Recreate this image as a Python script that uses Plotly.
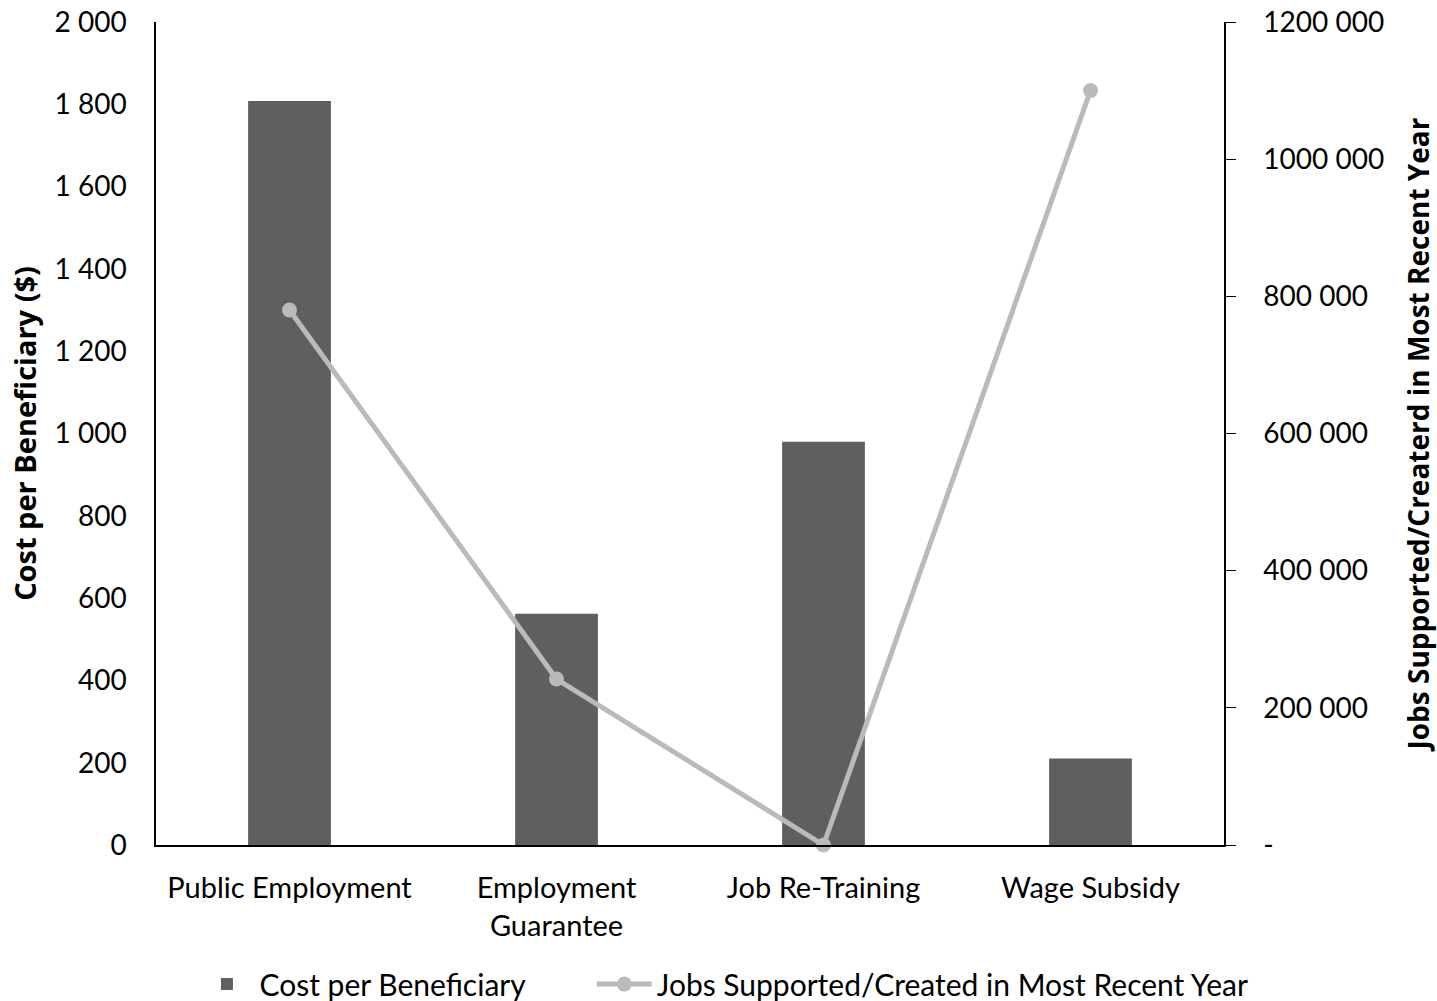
import plotly.graph_objects as go

categories = ["Public Employment", "Employment<br>Guarantee", "Job Re-Training", "Wage Subsidy"]
cost_per_beneficiary = [1808, 562, 980, 210]
jobs_supported = [780000, 242000, 0, 1100000]

left_tickvals = [0, 200, 400, 600, 800, 1000, 1200, 1400, 1600, 1800, 2000]
left_ticktext = ["0", "200", "400", "600", "800", "1 000", "1 200", "1 400", "1 600", "1 800", "2 000"]
right_tickvals = [0, 200000, 400000, 600000, 800000, 1000000, 1200000]
right_ticktext = ["-", "200 000", "400 000", "600 000", "800 000", "1000 000", "1200 000"]

FONT = "Lato, 'Open Sans', sans-serif"
TITLE_FONT = "'Open Sans', sans-serif"

fig = go.Figure()
fig.add_trace(go.Bar(
    x=categories, y=cost_per_beneficiary, name="Cost per Beneficiary",
    marker=dict(color="#5f5f5f", line=dict(width=0)), width=0.31,
    legend="legend",
))
fig.add_trace(go.Scatter(
    x=categories, y=jobs_supported, name="Jobs Supported/Created in Most Recent Year",
    yaxis="y2", mode="lines+markers",
    line=dict(color="#bababa", width=5),
    marker=dict(color="#bababa", size=15),
    cliponaxis=False, legend="legend2",
))

legend_common = dict(orientation="h", y=-0.169, yanchor="middle", xanchor="left",
                     font=dict(size=30), itemwidth=55, bgcolor="rgba(0,0,0,0)")

fig.update_layout(
    width=1437, height=1001,
    margin=dict(l=156, r=213, t=22, b=156, autoexpand=False),
    paper_bgcolor="white", plot_bgcolor="white",
    font=dict(family=FONT, size=28, color="black"),
    showlegend=True,
    legend=dict(x=0.036, **legend_common),
    legend2=dict(x=0.408, **legend_common),
    xaxis=dict(showline=True, linecolor="black", linewidth=2, ticks="",
               showgrid=False, tickfont=dict(size=29), ticklabelstandoff=16,
               automargin=False),
    yaxis=dict(range=[0, 2000], tickvals=left_tickvals, ticktext=left_ticktext,
               showline=True, linecolor="black", linewidth=1.5, ticks="",
               showgrid=False, zeroline=False, ticklabelstandoff=22, automargin=False,
               title=dict(text="<b>Cost per Beneficiary ($)</b>", standoff=9,
                          font=dict(family=TITLE_FONT, size=29, weight="bold"))),
    yaxis2=dict(range=[0, 1200000], tickvals=right_tickvals, ticktext=right_ticktext,
                overlaying="y", side="right", showline=True, linecolor="black",
                linewidth=1.5, ticks="outside", ticklen=10, tickcolor="black",
                showgrid=False, zeroline=False, ticklabelstandoff=22, automargin=False,
                title=dict(text="<b>Jobs Supported/Createrd in Most Recent Year</b>", standoff=26,
                           font=dict(family=TITLE_FONT, size=28, weight="bold"))),
)

fig.write_html("out.html")
